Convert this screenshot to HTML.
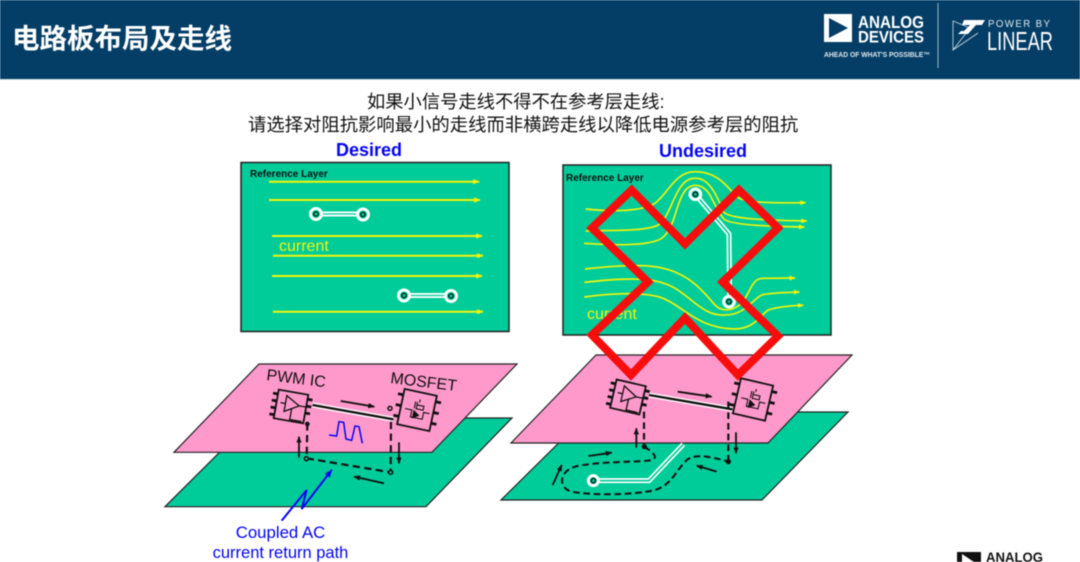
<!DOCTYPE html>
<html><head><meta charset="utf-8">
<style>
html,body{margin:0;padding:0;background:#fff;width:1080px;height:562px;overflow:hidden}
svg{display:block;position:absolute;left:0;top:0;filter:blur(0.4px)}
text{font-family:"Liberation Sans","Noto Sans CJK SC",sans-serif}
</style></head><body>
<svg width="1080" height="562" viewBox="0 0 1080 562" xmlns="http://www.w3.org/2000/svg">
<defs>
<marker id="y" viewBox="0 0 10 10" refX="9" refY="5" markerWidth="6.500" markerHeight="6.500" orient="auto" markerUnits="userSpaceOnUse"><path d="M0 1L10 5L0 9z" fill="#f4f40a"/></marker>
<marker id="ys" viewBox="0 0 10 10" refX="9" refY="5" markerWidth="18" markerHeight="18" orient="auto" markerUnits="userSpaceOnUse"><path d="M0 1L10 5L0 9z" fill="#f4f40a"/></marker>
<marker id="k" viewBox="0 0 10 10" refX="9" refY="5" markerWidth="20" markerHeight="20" orient="auto" markerUnits="userSpaceOnUse"><path d="M0 1L10 5L0 9z" fill="#111"/></marker>
<marker id="b" viewBox="0 0 10 10" refX="9" refY="5" markerWidth="24" markerHeight="24" orient="auto" markerUnits="userSpaceOnUse"><path d="M0 1L10 5L0 9z" fill="#0505f0"/></marker>
<g id="pwm" stroke="#111" fill="none" stroke-linecap="butt">
<rect x="-15" y="-14.500" width="30" height="29" stroke-width="1.800"/>
<path d="M-20 -10H-15M-20 -3H-15M-20 4H-15M-20 11H-15M15 -10H20M15 -3H20M15 4H20" stroke-width="2.800"/>
<path d="M-6 -10L-6 6L8 -2Z M-11 -2H-6M8 -2H15M1 2V13H13" stroke-width="1.300"/>
</g>
<g id="mos" stroke="#111" fill="none">
<rect x="-16.500" y="-18" width="33" height="36" stroke-width="1.800"/>
<path d="M-22 -12H-16.500M-22 -1H-16.500M-22 10H-16.500M16.500 -12H22M16.500 -1H22M16.500 10H22" stroke-width="2.800"/>
<path d="M-12 1H-5V8H7V1H13M-3 -8V-1M-1 -8V-1H6V-5H-1M1 -11V-8" stroke-width="1.100"/>
<path d="M-3 1L3 5L-3 9Z" fill="#111" stroke-width="0.600"/>
</g>
</defs>

<!-- header -->
<rect x="0" y="0" width="1080" height="79" fill="#043e66"/>
<rect x="0" y="79" width="1080" height="1" fill="#cfe2ea"/>
<text x="12" y="48" font-size="27.500" font-weight="700" fill="#fff" style="font-family:'Noto Sans CJK SC',sans-serif">电路板布局及走线</text>
<rect x="824" y="14" width="28" height="28" fill="#fff"/>
<path d="M829 18L848 28L829 38Z" fill="#043e66"/>
<text x="858" y="28" font-size="17.500" font-weight="700" fill="#fff" textLength="66" lengthAdjust="spacingAndGlyphs">ANALOG</text>
<text x="858" y="42.500" font-size="17" font-weight="700" fill="#fff" textLength="66" lengthAdjust="spacingAndGlyphs">DEVICES</text>
<text x="824" y="57" font-size="7" font-weight="700" fill="#dfe8ee" textLength="106" lengthAdjust="spacingAndGlyphs">AHEAD OF WHAT'S POSSIBLE™</text>
<rect x="937.500" y="3" width="1" height="65" fill="#9fb6c6"/>
<path d="M953 21L970 28L953 50Z M953 50L978 33" fill="none" stroke="#cfdde6" stroke-width="0.800"/>
<path d="M964 20H985L982 25H976L968 34H958L961 31H964L970 25H962Z" fill="#fff"/>
<text x="988" y="27" font-size="9.700" fill="#dfe9ef" textLength="62" lengthAdjust="spacing">POWER BY</text>
<text x="987" y="50" font-size="26" fill="#fff" textLength="66" lengthAdjust="spacingAndGlyphs">LINEAR</text>

<!-- heading -->
<text x="367" y="108" font-size="18.300" fill="#111">如果小信号走线不得不在参考层走线:</text>
<text x="248" y="131" font-size="18.350" fill="#111">请选择对阻抗影响最小的走线而非横跨走线以降低电源参考层的阻抗</text>

<text x="369" y="156" font-size="18" font-weight="700" fill="#0505f0" text-anchor="middle">Desired</text>
<text x="703" y="157" font-size="18" font-weight="700" fill="#0505f0" text-anchor="middle">Undesired</text>

<!-- desired panel -->
<rect x="241" y="162.500" width="268" height="169" fill="#00cc99" stroke="#222" stroke-width="1.500"/>
<text x="250" y="177" font-size="10" font-weight="700" fill="#111">Reference Layer</text>
<g stroke="#f4f40a" stroke-width="2" fill="none">
<path d="M269 181.700H479" marker-end="url(#y)"/>
<path d="M269 200H480" marker-end="url(#y)"/>
<path d="M272 236H482" marker-end="url(#y)"/>
<path d="M273 255.700H483" marker-end="url(#y)"/>
<path d="M272 276H482" marker-end="url(#y)"/>
<path d="M273 311.700H483" marker-end="url(#y)"/>
</g>
<text x="279" y="251" font-size="16" fill="#f4f40a">current</text>
<g fill="none">
<path d="M316 214H363M404 295.500H451" stroke="#fff" stroke-width="5"/>
<path d="M316 214H363M404 295.500H451" stroke="#00cc99" stroke-width="1.300"/>
<g fill="#00cc99" stroke="#fff" stroke-width="3"><circle cx="316" cy="214" r="5.500"/><circle cx="363" cy="214.500" r="5.500"/><circle cx="404" cy="295.500" r="5.500"/><circle cx="451" cy="296" r="5.500"/></g>
<g fill="#00cc99" stroke="#00291e" stroke-width="1.400"><circle cx="316" cy="214" r="2.200"/><circle cx="363" cy="214.500" r="2.200"/><circle cx="404" cy="295.500" r="2.200"/><circle cx="451" cy="296" r="2.200"/></g>
</g>

<!-- undesired panel -->
<rect x="563" y="165" width="268" height="170" fill="#00cc99" stroke="#222" stroke-width="1.500"/>
<text x="566" y="181" font-size="10" font-weight="700" fill="#111">Reference Layer</text>
<text x="587" y="319" font-size="16" fill="#f4f40a">current</text>
<g transform="translate(555 140) scale(.33333)">
<g fill="none" stroke="#f4f40a" stroke-width="5">
<path marker-end="url(#ys)" d="M92 207C170 215 260 215 300 190C340 160 360 95 420 95C480 95 510 130 540 165C555 185 600 190 752 188"/>
<path marker-end="url(#ys)" d="M92 273C170 270 270 275 310 255C350 230 360 120 415 115C455 110 480 150 505 215C520 235 600 240 755 243"/>
<path marker-end="url(#ys)" d="M87 310C170 315 280 320 320 295C360 265 360 200 385 160C400 130 440 125 465 165C480 195 490 215 505 235C520 255 650 260 748 261"/>
<path marker-end="url(#ys)" d="M90 387C150 380 240 372 300 380C400 395 440 450 480 495C500 515 530 515 560 490C590 450 590 415 625 415L720 414"/>
<path marker-end="url(#ys)" d="M88 427C150 420 250 410 310 425C400 445 430 530 510 525C570 525 590 480 620 465C650 458 700 457 733 456"/>
<path marker-end="url(#ys)" d="M88 471C150 462 250 455 310 470C380 490 420 565 540 567C600 565 610 530 640 510C670 500 710 497 745 496"/>
</g>
<path d="M421 163L522 282L524 485" fill="none" stroke="#fff" stroke-width="15"/>
<path d="M421 163L522 282L524 485" fill="none" stroke="#00cc99" stroke-width="5"/>
<circle cx="421" cy="163" r="16" fill="#00cc99" stroke="#fff" stroke-width="9"/>
<circle cx="421" cy="163" r="6.500" fill="#00cc99" stroke="#00291e" stroke-width="4.500"/>
<circle cx="522" cy="485" r="16" fill="#00cc99" stroke="#fff" stroke-width="9"/>
<circle cx="522" cy="485" r="6.500" fill="#00cc99" stroke="#00291e" stroke-width="4.500"/>
</g>

<!-- left planes -->
<path d="M254 418H512L426 506.700H165Z" fill="#00cc99" stroke="#222" stroke-width="1.200"/>
<path d="M259 364H517L432 452.300H174Z" fill="#ff99cc" stroke="#222" stroke-width="1.200"/>
<use href="#pwm" transform="translate(291 406.500) rotate(10)"/>
<use href="#mos" transform="translate(417 410) rotate(12)"/>
<text transform="translate(266 380) rotate(7)" font-size="16" fill="#111">PWM IC</text>
<text transform="translate(390 383) rotate(7)" font-size="16" fill="#111">MOSFET</text>
<g transform="translate(160 355) scale(.33333)" fill="none">
<path d="M458 150L700 193" stroke="#fff" stroke-width="15"/>
<path d="M458 150L700 193" stroke="#111" stroke-width="7"/>
<path d="M542 138L643 155" stroke="#111" stroke-width="5.500" marker-end="url(#k)"/>
<path d="M507 240L530 243L537 200L551 202L558 252L575 256L585 213L597 215L607 265" stroke="#0505f0" stroke-width="4.500"/>
<path d="M442 205L440 310L692 352L693 190" stroke="#111" stroke-width="6.500" stroke-dasharray="22 13"/>
<circle cx="439" cy="311" r="6" stroke="#111" stroke-width="4.500" fill="#00cc99"/>
<circle cx="692" cy="352" r="6" stroke="#111" stroke-width="4.500" fill="#00cc99"/>
<circle cx="442" cy="207" r="7" fill="#111"/>
<circle cx="690" cy="160" r="6" stroke="#111" stroke-width="4.500"/>
<path d="M417 308V245" stroke="#111" stroke-width="5.500" marker-end="url(#k)"/>
<path d="M717 262V325" stroke="#111" stroke-width="5.500" marker-end="url(#k)"/>
<path d="M672 385L582 365" stroke="#111" stroke-width="5.500" marker-end="url(#k)"/>
<path d="M365 497L440 405L425 462L515 345" stroke="#0505f0" stroke-width="6" marker-end="url(#b)"/>
</g>
<text x="280.500" y="538" font-size="16.800" fill="#0505f0" text-anchor="middle">Coupled AC</text>
<text x="280.500" y="558" font-size="16.500" fill="#0505f0" text-anchor="middle">current return path</text>

<!-- right planes -->
<path d="M590 412H848L762 500H501Z" fill="#00cc99" stroke="#222" stroke-width="1.200"/>
<path d="M596 355H852L768 443H511Z" fill="#ff99cc" stroke="#222" stroke-width="1.200"/>
<g transform="translate(495 345) scale(.33333)" fill="none">
<path d="M448 305C470 320 500 340 460 347C400 352 300 350 240 365C190 380 190 430 230 440C290 452 420 450 480 435C530 420 540 380 575 345C600 325 650 335 700 350" stroke="#111" stroke-width="6" stroke-dasharray="20 11"/>
<path d="M295 407H462L565 298" stroke="#fff" stroke-width="15"/>
<path d="M295 407H462L565 298" stroke="#00cc99" stroke-width="5"/>
<circle cx="295" cy="407" r="15" fill="#00cc99" stroke="#fff" stroke-width="9"/>
<circle cx="295" cy="407" r="6.500" fill="#00cc99" stroke="#00291e" stroke-width="4.500"/>
<path d="M462 150L712 193" stroke="#fff" stroke-width="15"/>
<path d="M462 150L712 193" stroke="#111" stroke-width="7"/>
<path d="M548 140L650 155" stroke="#111" stroke-width="5.500" marker-end="url(#k)"/>
<path d="M447 200V305M700 170V345" stroke="#111" stroke-width="6.500" stroke-dasharray="20 12"/>
<circle cx="448" cy="305" r="8" fill="#111"/>
<circle cx="700" cy="350" r="8" fill="#111"/>
<path d="M424 308V250" stroke="#111" stroke-width="5.500" marker-end="url(#k)"/>
<path d="M723 262V325" stroke="#111" stroke-width="5.500" marker-end="url(#k)"/>
<path d="M665 380L605 362" stroke="#111" stroke-width="5.500" marker-end="url(#k)"/>
<path d="M280 333L350 323" stroke="#111" stroke-width="5.500" marker-end="url(#k)"/>
<path d="M173 420L200 360" stroke="#111" stroke-width="5.500" marker-end="url(#k)"/>
</g>
<use href="#pwm" transform="translate(628 397) rotate(13)"/>
<use href="#mos" transform="translate(753 399.500) rotate(13)"/>

<!-- red X -->
<path d="M631.700 190L685 244L739 190L778 228L722.700 282L778 336L738 375L685 318L631 375L592 335L648 282L592 228Z" fill="none" stroke="#f80d0d" stroke-width="8" stroke-linejoin="miter"/>

<!-- footer logo -->
<rect x="957" y="552" width="24" height="12" fill="#111"/>
<path d="M962 554L974 562H962Z" fill="#fff"/>
<text x="986" y="562" font-size="14" font-weight="700" fill="#111" textLength="57" lengthAdjust="spacingAndGlyphs">ANALOG</text>
</svg>
</body></html>
